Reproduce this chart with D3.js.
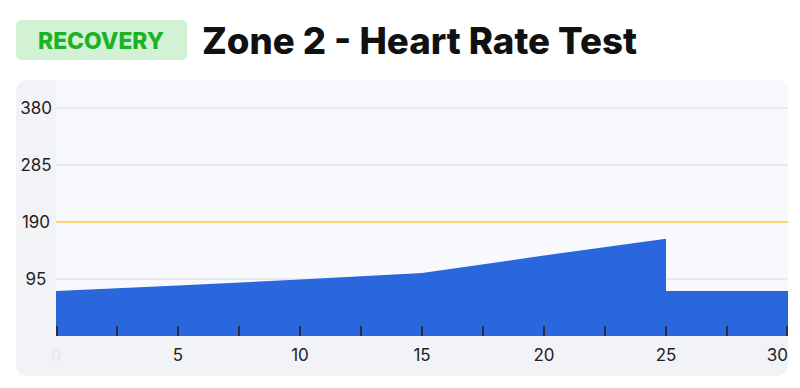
<!DOCTYPE html>
<html>
<head>
<meta charset="utf-8">
<script src="https://cdn.jsdelivr.net/npm/d3@7"></script>
<style>
  body { margin: 0; background: #fff; }
  svg { display: block; font-family: Inter, "Open Sans", sans-serif; }
</style>
</head>
<body>
<div id="chart"></div>
<script>
// heart rate over time (minutes)
var minutes = [0, 5, 10, 15, 20, 25, 25, 30];
var heartRate = [75, 84, 94, 105, 134, 162, 75, 75];
var yTicks = [95, 190, 285, 380];
var xTicks = [0, 5, 10, 15, 20, 25, 30];
var threshold = 190;
var badgeText = "RECOVERY";
var titleText = "Zone 2 - Heart Rate Test";

var width = 800, height = 388;
var margin = { top: 80, right: 12, bottom: 52, left: 56 };

var svg = d3.select("#chart").append("svg")
    .attr("width", width)
    .attr("height", height);

// badge
svg.append("rect")
    .attr("x", 16).attr("y", 20)
    .attr("width", 171).attr("height", 40)
    .attr("rx", 5)
    .attr("fill", "#d3f1d5");
var badge = svg.append("text")
    .attr("x", 101).attr("y", 48.5)
    .attr("text-anchor", "middle")
    .attr("font-size", 22)
    .attr("font-weight", 800)
    .attr("fill", "#19b324")
    .text(badgeText);

// title
var title = svg.append("text")
    .attr("x", 202).attr("y", 54)
    .attr("font-size", 37)
    .attr("font-weight", 800)
    .attr("fill", "#111")
    .text(titleText);

// squeeze text to match the reference widths
function fitText(sel, w) {
    var len = sel.node().getComputedTextLength();
    var fs = +sel.attr("font-size");
    sel.attr("font-size", fs * w / len);
}
fitText(badge, 126);
fitText(title, 435);

// panel
var px = 16, pw = 772, py = 80, ph = 296;
svg.append("rect")
    .attr("x", px).attr("y", py)
    .attr("width", pw).attr("height", ph)
    .attr("rx", 10)
    .attr("fill", "#f2f3f7");

var x0 = margin.left, x1 = width - margin.right;
var yBottom = height - margin.bottom;

var x = d3.scaleLinear().domain([0, 30]).range([x0, x1]);
var y = d3.scaleLinear().domain([0, 380]).range([yBottom, 108]);

// lighter plot area
var clip = svg.append("clipPath").attr("id", "panelclip");
clip.append("rect")
    .attr("x", px).attr("y", py)
    .attr("width", pw).attr("height", ph)
    .attr("rx", 10);
svg.append("rect")
    .attr("clip-path", "url(#panelclip)")
    .attr("x", x0).attr("y", py)
    .attr("width", x1 - x0).attr("height", yBottom - py)
    .attr("fill", "#f8f9fd");

// grid lines
svg.append("g").selectAll("line")
    .data(yTicks)
    .enter().append("line")
    .attr("x1", x0).attr("x2", x1)
    .attr("y1", function(d) { return y(d); })
    .attr("y2", function(d) { return y(d); })
    .attr("stroke", function(d) { return d == threshold ? "#ffc940" : "#d9dbe1"; })
    .attr("stroke-width", function(d) { return d == threshold ? 1.5 : 1; });

// y labels
svg.append("g").selectAll("text")
    .data(yTicks)
    .enter().append("text")
    .attr("x", 36)
    .attr("y", function(d) { return y(d) + 6; })
    .attr("text-anchor", "middle")
    .attr("font-size", 17)
    .attr("fill", "#222")
    .text(function(d) { return d; });

// area
var data = minutes.map(function(m, i) { return { m: m, v: heartRate[i] }; });
var area = d3.area()
    .x(function(d) { return x(d.m); })
    .y0(yBottom)
    .y1(function(d) { return y(d.v); });
svg.append("path")
    .datum(data)
    .attr("d", area)
    .attr("fill", "#2b67dc");

// minor ticks every 2.5 min
var minorTicks = d3.range(0, 30.01, 2.5);
svg.append("g").selectAll("line")
    .data(minorTicks)
    .enter().append("line")
    .attr("x1", function(d) { return x(d) + (d == 0 ? 1 : d == 30 ? -1 : 0); })
    .attr("x2", function(d) { return x(d) + (d == 0 ? 1 : d == 30 ? -1 : 0); })
    .attr("y1", yBottom - 10).attr("y2", yBottom)
    .attr("stroke", "#2a2d3a")
    .attr("stroke-width", 2);

// x labels
svg.append("g").selectAll("text")
    .data(xTicks)
    .enter().append("text")
    .attr("x", function(d) { return x(d); })
    .attr("y", yBottom + 25)
    .attr("text-anchor", function(d) { return d == 30 ? "end" : "middle"; })
    .attr("font-size", 17)
    .attr("fill", function(d) { return d == 0 ? "#e6e7ea" : "#222"; })
    .text(function(d) { return d; });
</script>
</body>
</html>
